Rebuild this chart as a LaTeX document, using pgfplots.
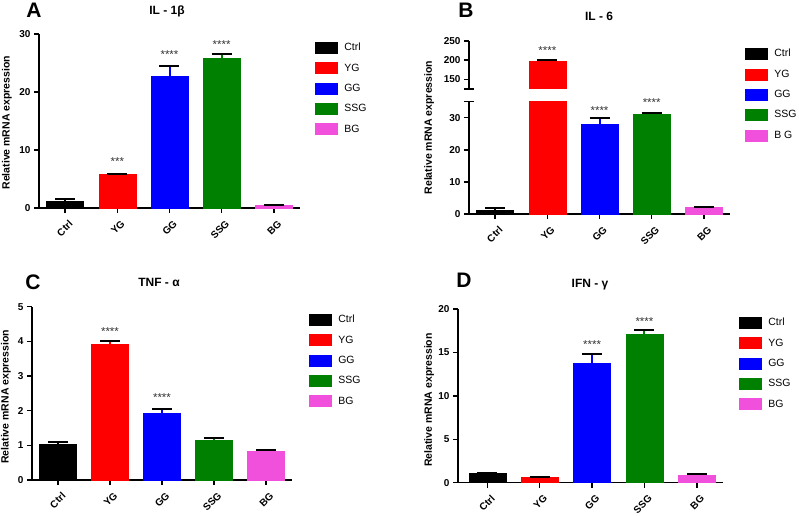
\documentclass[border=0pt]{standalone}
\usepackage{pgfplots}
\pgfplotsset{compat=1.18}
\usepackage{fontspec}
\setmainfont{Liberation Sans}
\definecolor{cpink}{RGB}{240,80,220}
\definecolor{cgreen}{RGB}{0,128,0}
\definecolor{cred}{RGB}{255,0,0}
\definecolor{cblue}{RGB}{0,0,255}
\tikzset{stars/.style={font=\fontsize{11.5}{12}\selectfont, yshift=-2.5pt, text=black!80}}
\pgfplotsset{
  mylegend/.style={legend image code/.code={\fill[##1] (0pt,-5.5pt) rectangle (22pt,5.5pt); \path[draw=none, fill=none] (0pt,0pt) -- (27pt,0pt);}},
  panel/.style={
    scale only axis, anchor=south west,
    axis x line*=bottom, axis y line*=left,
    axis line style={line width=1.4pt},
    xmin=-0.5, xmax=4.5, xtick={0,1,2,3,4},
    xticklabels={Ctrl,YG,GG,SSG,BG},
    x tick label style={rotate=45, anchor=north east, yshift=-3.5pt, xshift=1pt, font=\bfseries\fontsize{10}{12}\selectfont},
    y tick label style={font=\bfseries\fontsize{10}{12}\selectfont},
    tick style={line width=1.4pt, black},
    major tick length=5pt,
    tick align=outside,
    ybar, bar width=37pt, bar shift=0pt,
    ylabel={Relative mRNA expression},
    ylabel style={font=\bfseries\fontsize{10.5}{12}\selectfont, anchor=center},
    /pgf/number format/assume math mode=true,
    clip mode=individual,
    legend style={draw=none, fill=none, font=\fontsize{10.5}{12}\selectfont, anchor=north west, row sep=7.5pt, inner sep=0pt},
    legend cell align=left,
    every axis plot post/.append style={mylegend},
    error bars/y dir=plus, error bars/y explicit,
    error bars/error bar style={line width=2pt},
    error bars/error mark options={rotate=90, mark size=10pt, line width=2pt},
  },
}
\begin{document}
\begin{tikzpicture}
\path[use as bounding box] (0,0) rectangle (799pt,515pt);
% Panel A
\begin{axis}[panel, at={(39pt,307pt)}, width=261pt, height=174pt,
  ymin=0, ymax=30, ytick={0,10,20,30},
  ylabel style={at={(rel axis cs:-0.123,0.49)}},
  legend style={at={(1.057,0.96)}}]
\addplot[fill=black, draw=black] coordinates {(0,1.1) +- (0,0.45)};
\addplot[fill=cred, draw=cred] coordinates {(1,5.8) +- (0,0.1)};
\addplot[fill=cblue, draw=cblue] coordinates {(2,22.8) +- (0,1.7)};
\addplot[fill=cgreen, draw=cgreen] coordinates {(3,25.9) +- (0,0.6)};
\addplot[fill=cpink, draw=cpink] coordinates {(4,0.5) +- (0,0.05)};
\legend{Ctrl,YG,GG,SSG,BG}
\node[stars] at (axis cs:1,8.4) {***};
\node[stars] at (axis cs:2,26.9) {****};
\node[stars] at (axis cs:3,28.6) {****};
\end{axis}
% Panel B lower
\begin{axis}[panel, at={(469pt,301pt)}, width=261pt, height=112.3pt,
  ymin=0, ymax=35, ytick={0,10,20,30},
  extra y ticks={35}, extra y tick labels={},
  extra y tick style={tick align=center, major tick length=10pt},
  ylabel style={at={(rel axis cs:-0.153,0.77)}},
  legend style={at={(1.057,1.487)}}]
\addplot[fill=black, draw=black] coordinates {(0,1.3) +- (0,0.5)};
\addplot[fill=cred, draw=cred] coordinates {(1,197) +- (0,3)};
\addplot[fill=cblue, draw=cblue] coordinates {(2,28) +- (0,2)};
\addplot[fill=cgreen, draw=cgreen] coordinates {(3,31) +- (0,0.5)};
\addplot[fill=cpink, draw=cpink] coordinates {(4,2.0) +- (0,0.1)};
\legend{Ctrl,YG,GG,SSG,B G}
\node[stars] at (axis cs:2,33) {****};
\node[stars] at (axis cs:3,35.6) {****};
\end{axis}
% Panel B upper
\begin{axis}[panel, at={(469pt,426pt)}, width=261pt, height=48pt,
  ymin=125, ymax=250, ytick={150,200,250},
  axis x line=none, ylabel={},
  extra y ticks={125}, extra y tick labels={},
  extra y tick style={tick align=center, major tick length=10pt}]
\addplot[fill=cred, draw=cred, forget plot] coordinates {(1,197) +- (0,3)};
\node[stars] at (axis cs:1,231) {****};
\end{axis}
% Panel C
\begin{axis}[panel, at={(32pt,35pt)}, width=260pt, height=173.3pt,
  ymin=0, ymax=5, ytick={0,1,2,3,4,5},
  ylabel style={at={(rel axis cs:-0.1,0.48)}},
  legend style={at={(1.065,0.964)}}]
\addplot[fill=black, draw=black] coordinates {(0,1.03) +- (0,0.07)};
\addplot[fill=cred, draw=cred] coordinates {(1,3.93) +- (0,0.07)};
\addplot[fill=cblue, draw=cblue] coordinates {(2,1.92) +- (0,0.14)};
\addplot[fill=cgreen, draw=cgreen] coordinates {(3,1.15) +- (0,0.07)};
\addplot[fill=cpink, draw=cpink] coordinates {(4,0.84) +- (0,0.02)};
\legend{Ctrl,YG,GG,SSG,BG}
\node[stars] at (axis cs:1,4.37) {****};
\node[stars] at (axis cs:2,2.45) {****};
\end{axis}
% Panel D
\begin{axis}[panel, at={(458pt,32.3pt)}, width=265pt, height=173.7pt,
  xmin=-0.56, xmax=4.5,
  ymin=0, ymax=20, ytick={0,5,10,15,20},
  ylabel style={at={(rel axis cs:-0.109,0.476)}},
  legend style={at={(1.06,0.96)}}]
\addplot[fill=black, draw=black] coordinates {(0,1.1) +- (0,0.05)};
\addplot[fill=cred, draw=cred] coordinates {(1,0.58) +- (0,0.07)};
\addplot[fill=cblue, draw=cblue] coordinates {(2,13.8) +- (0,1.05)};
\addplot[fill=cgreen, draw=cgreen] coordinates {(3,17.15) +- (0,0.4)};
\addplot[fill=cpink, draw=cpink] coordinates {(4,0.85) +- (0,0.2)};
\legend{Ctrl,YG,GG,SSG,BG}
\node[stars] at (axis cs:2,16.2) {****};
\node[stars] at (axis cs:3,18.8) {****};
\end{axis}
% Panel letters and titles
\node[font=\bfseries\fontsize{21}{24}\selectfont] at (34pt,505pt) {A};
\node[font=\bfseries\fontsize{21}{24}\selectfont] at (466pt,505pt) {B};
\node[font=\bfseries\fontsize{21}{24}\selectfont] at (33pt,233pt) {C};
\node[font=\bfseries\fontsize{21}{24}\selectfont] at (464pt,235pt) {D};
\node[font=\bfseries\fontsize{12}{14}\selectfont] at (167pt,504pt) {IL - 1β};
\node[font=\bfseries\fontsize{12}{14}\selectfont] at (599pt,499pt) {IL - 6};
\node[font=\bfseries\fontsize{12}{14}\selectfont] at (159pt,233pt) {TNF - α};
\node[font=\bfseries\fontsize{12}{14}\selectfont] at (590pt,230pt) {IFN - γ};
\end{tikzpicture}
\end{document}
